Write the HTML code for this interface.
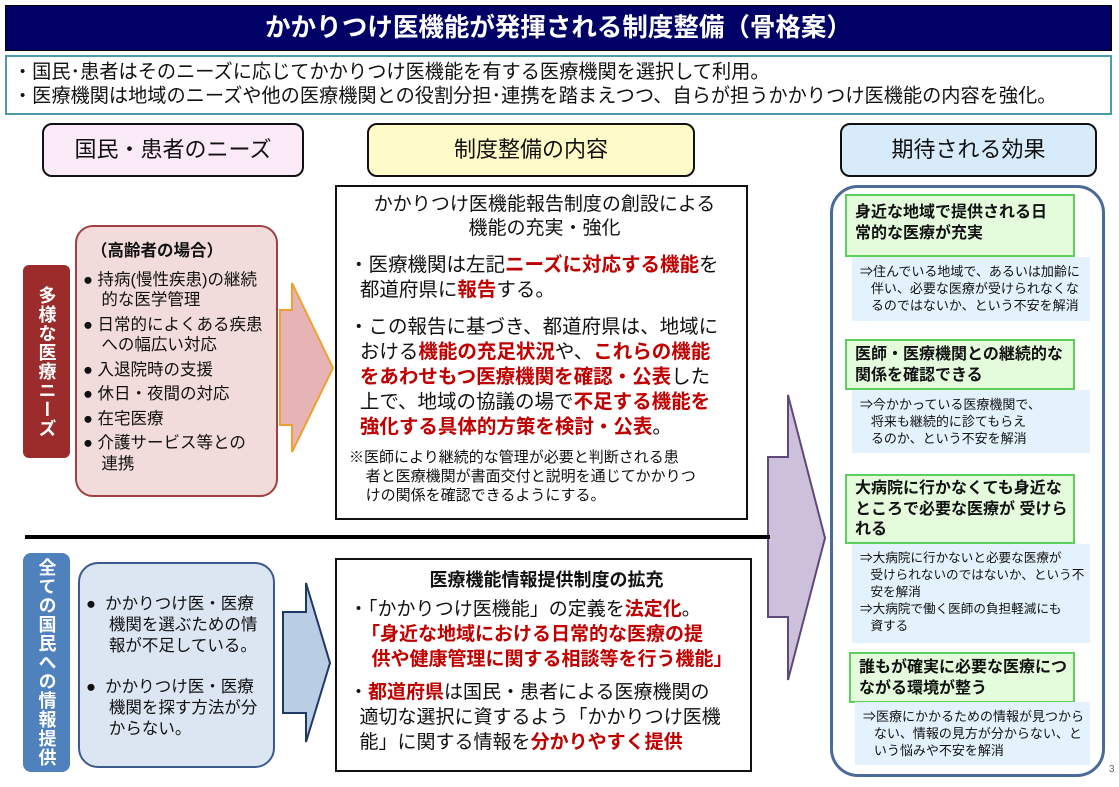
<!DOCTYPE html>
<html><head><meta charset="utf-8"><style>
*{margin:0;padding:0;box-sizing:border-box}
body{width:1119px;height:787px;background:#fff;position:relative;overflow:hidden;font-family:"Liberation Sans","Noto Sans CJK JP",sans-serif;color:#111}
.a{position:absolute}
.red{color:#c00000;font-weight:bold}
.vt{writing-mode:vertical-rl;text-orientation:upright;color:#fff;font-weight:bold;font-size:18px;display:flex;align-items:center;justify-content:center;letter-spacing:1px}
.g{position:absolute;left:845px;width:230px;background:#e4fbdc;border:2px solid #5cd05c;font-weight:bold;font-size:16px;line-height:21px;padding:6px 8px;white-space:nowrap}
.lb{position:absolute;left:852px;width:238px;background:#e3f2fd;font-size:13px;line-height:17px;padding:6px 2px 4px 8px;white-space:nowrap;overflow:hidden}
.nw{white-space:nowrap}
</style></head><body>
<div class="a" style="left:5px;top:5px;width:1107px;height:46px;background:#000066;color:#fff;font-weight:bold;font-size:25.5px;text-align:center;line-height:44px;border:1px solid #000">かかりつけ医機能が発揮される制度整備（骨格案）</div>
<div class="a nw" style="left:5px;top:55px;width:1107px;height:60px;border:2px solid #4a9aa8;font-size:19.2px;line-height:24px;padding:4px 0 0 6px">・国民･患者はそのニーズに応じてかかりつけ医機能を有する医療機関を選択して利用。<br>・医療機関は地域のニーズや他の医療機関との役割分担･連携を踏まえつつ、自らが担うかかりつけ医機能の内容を強化。</div>

<div class="a" style="left:42px;top:123px;width:262px;height:54px;background:#fbeaf8;border:2px solid #111;border-radius:10px;font-size:22px;text-align:center;line-height:50px">国民・患者のニーズ</div>
<div class="a" style="left:367px;top:123px;width:328px;height:54px;background:#fffbc8;border:2px solid #111;border-radius:10px;font-size:22px;text-align:center;line-height:50px">制度整備の内容</div>
<div class="a" style="left:840px;top:123px;width:257px;height:54px;background:#d7ebfa;border:2px solid #111;border-radius:10px;font-size:22px;text-align:center;line-height:50px">期待される効果</div>

<div class="a vt" style="left:23px;top:265px;width:47px;height:193px;background:#9c2b2b;border-radius:6px">多様な医療ニーズ</div>
<div class="a nw" style="left:75px;top:225px;width:203px;height:272px;background:#f2dcdb;border:2px solid #a04040;border-radius:18px;font-size:16.5px;line-height:20.5px;padding:14px 2px 0 6px">
<div style="padding-left:8px;margin-bottom:8px;font-weight:bold">（高齢者の場合）</div>
<div style="margin-bottom:4px">● 持病(慢性疾患)の継続<br>&nbsp;&nbsp;&nbsp;&nbsp;的な医学管理</div>
<div style="margin-bottom:4px">● 日常的によくある疾患<br>&nbsp;&nbsp;&nbsp;&nbsp;への幅広い対応</div>
<div style="margin-bottom:4px">● 入退院時の支援</div>
<div style="margin-bottom:4px">● 休日・夜間の対応</div>
<div style="margin-bottom:4px">● 在宅医療</div>
<div>● 介護サービス等との<br>&nbsp;&nbsp;&nbsp;&nbsp;連携</div>
</div>
<svg class="a" style="left:0;top:0" width="1119" height="787">
<polygon points="280,310 292,310 292,283 333,368 292,452 292,425 280,425" fill="#e6b4b4" stroke="#f0a030" stroke-width="2"/>
<polygon points="283,612 306,612 306,583 330,663 306,742 306,713 283,713" fill="#b9cde5" stroke="#1f3864" stroke-width="2"/>
<polygon points="768,457 788,457 788,395 825,538 788,680 788,617 768,617" fill="#ccc0da" stroke="#5f497a" stroke-width="2"/>
<line x1="25" y1="537" x2="770" y2="537" stroke="#000" stroke-width="4"/>
</svg>

<div class="a nw" style="left:335px;top:185px;width:413px;height:335px;border:2px solid #111;padding:6px 6px 0 12px">
<div style="font-size:19px;line-height:24px;text-align:center">かかりつけ医機能報告制度の創設による<br>機能の充実・強化</div>
<div style="font-size:19.5px;line-height:25px;margin-top:12px">・医療機関は左記<span class="red">ニーズに対応する機能</span>を<br>&nbsp;&nbsp;都道府県に<span class="red">報告</span>する。</div>
<div style="font-size:19.5px;line-height:25px;margin-top:12px">・この報告に基づき、都道府県は、地域に<br>&nbsp;&nbsp;おける<span class="red">機能の充足状況</span>や、<span class="red">これらの機能</span><br>&nbsp;&nbsp;<span class="red">をあわせもつ医療機関を確認・公表</span>した<br>&nbsp;&nbsp;上で、地域の協議の場で<span class="red">不足する機能を</span><br>&nbsp;&nbsp;<span class="red">強化する具体的方策を検討・公表</span>。</div>
<div style="font-size:15px;line-height:19px;margin-top:8px">※医師により継続的な管理が必要と判断される患<br>&nbsp;&nbsp;&nbsp;&nbsp;者と医療機関が書面交付と説明を通じてかかりつ<br>&nbsp;&nbsp;&nbsp;&nbsp;けの関係を確認できるようにする。</div>
</div>

<div class="a vt" style="left:23px;top:553px;width:47px;height:219px;background:#4f81bd;border-radius:8px">全ての国民への情報提供</div>
<div class="a nw" style="left:78px;top:562px;width:197px;height:206px;background:#dce6f2;border:2px solid #3c5a8a;border-radius:20px;font-size:16.5px;line-height:21px;padding:30px 2px 0 6px">
<div style="margin-bottom:20px">●&nbsp; かかりつけ医・医療<br>&nbsp;&nbsp;&nbsp;&nbsp;&nbsp;機関を選ぶための情<br>&nbsp;&nbsp;&nbsp;&nbsp;&nbsp;報が不足している。</div>
<div>●&nbsp; かかりつけ医・医療<br>&nbsp;&nbsp;&nbsp;&nbsp;&nbsp;機関を探す方法が分<br>&nbsp;&nbsp;&nbsp;&nbsp;&nbsp;からない。</div>
</div>

<div class="a nw" style="left:335px;top:558px;width:417px;height:214px;border:2px solid #111;padding:8px 6px 0 12px;font-size:19px;line-height:25px">
<div style="text-align:center;font-size:18px;margin-bottom:4px;font-weight:bold">医療機能情報提供制度の拡充</div>
<div>・「かかりつけ医機能」の定義を<span class="red">法定化</span>。</div>
<div class="red" style="padding-left:12px">「身近な地域における日常的な医療の提<br>&nbsp;&nbsp;供や健康管理に関する相談等を行う機能」</div>
<div style="margin-top:8px">・<span class="red">都道府県</span>は国民・患者による医療機関の<br>&nbsp;&nbsp;適切な選択に資するよう「かかりつけ医機<br>&nbsp;&nbsp;能」に関する情報を<span class="red">分かりやすく提供</span></div>
</div>

<div class="a" style="left:830px;top:185px;width:275px;height:592px;border:3px solid #4a6a9a;border-radius:28px"></div>
<div class="g" style="top:194px;height:63px">身近な地域で提供される日<br>常的な医療が充実</div>
<div class="lb" style="top:257px;height:64px">⇒住んでいる地域で、あるいは加齢に<br>&nbsp;&nbsp;&nbsp;伴い、必要な医療が受けられなくな<br>&nbsp;&nbsp;&nbsp;るのではないか、という不安を解消</div>
<div class="g" style="top:339px;height:51px;padding-top:3px">医師・医療機関との継続的な<br>関係を確認できる</div>
<div class="lb" style="top:390px;height:63px">⇒今かかっている医療機関で、<br>&nbsp;&nbsp;&nbsp;将来も継続的に診てもらえ<br>&nbsp;&nbsp;&nbsp;るのか、という不安を解消</div>
<div class="g" style="top:474px;height:70px;padding-top:3px;line-height:20.5px">大病院に行かなくても身近な<br>ところで必要な医療が 受けら<br>れる</div>
<div class="lb" style="top:544px;height:99px;font-size:12.6px">⇒大病院に行かないと必要な医療が<br>&nbsp;&nbsp;&nbsp;受けられないのではないか、という不<br>&nbsp;&nbsp;&nbsp;安を解消<br>⇒大病院で働く医師の負担軽減にも<br>&nbsp;&nbsp;&nbsp;資する</div>
<div class="g" style="top:652px;height:51px;padding-top:3px;left:849px;width:226px">誰もが確実に必要な医療につ<br>ながる環境が整う</div>
<div class="lb" style="top:702px;height:63px;left:855px;width:235px">⇒医療にかかるための情報が見つから<br>&nbsp;&nbsp;&nbsp;ない、情報の見方が分からない、と<br>&nbsp;&nbsp;&nbsp;いう悩みや不安を解消</div>
<div class="a" style="left:1109px;top:764px;font-size:10px;color:#666">3</div>
</body></html>
